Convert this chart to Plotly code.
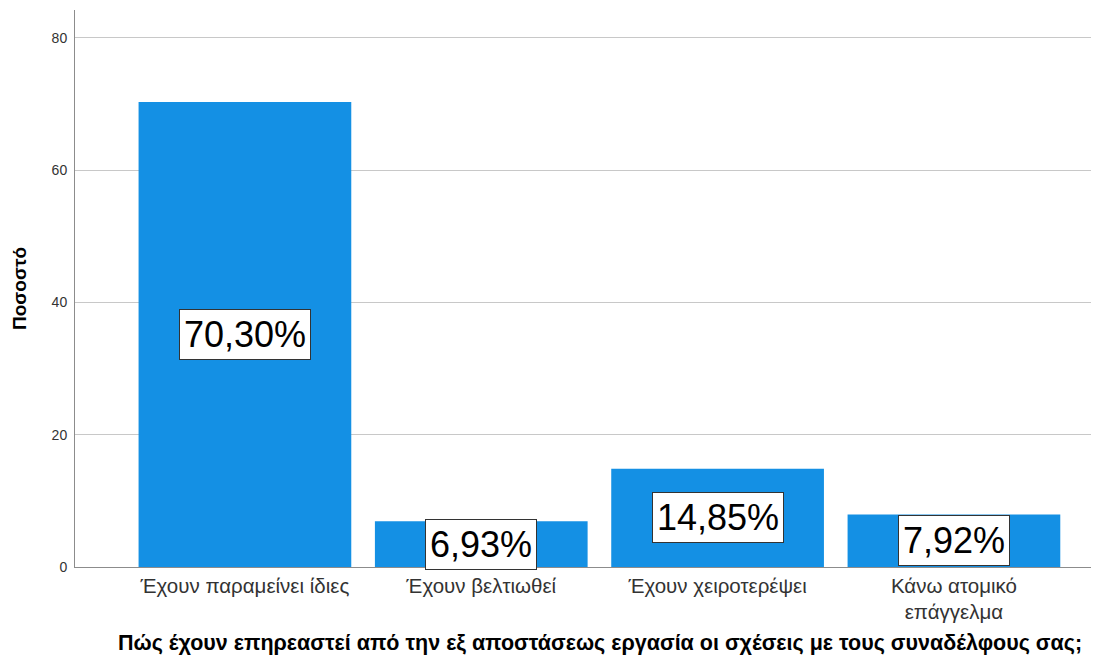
import plotly.graph_objects as go

categories = ["Έχουν παραμείνει ίδιες", "Έχουν βελτιωθεί", "Έχουν χειροτερέψει", "Κάνω ατομικό<br>επάγγελμα"]
values = [70.30, 6.93, 14.85, 7.92]
labels = ["70,30%", "6,93%", "14,85%", "7,92%"]
y_ticks = [0, 20, 40, 60, 80]
x_title = "Πώς έχουν επηρεαστεί από την εξ αποστάσεως εργασία οι σχέσεις με τους συναδέλφους σας;"

fig = go.Figure()
fig.add_trace(go.Bar(
    x=list(range(len(categories))), y=values,
    marker=dict(color="#1490e4", line=dict(width=0)),
    width=0.9, hoverinfo="skip",
))

for i, (v, t) in enumerate(zip(values, labels)):
    fig.add_annotation(
        x=i, y=v / 2, text=t, showarrow=False,
        font=dict(family="Liberation Sans, Arial", size=36, color="#000000"),
        bgcolor="#ffffff", bordercolor="#333333", borderwidth=1, borderpad=4,
    )

fig.add_annotation(
    x=0.5167, y=-0.136, xref="paper", yref="paper",
    xanchor="center", yanchor="middle", showarrow=False,
    text="<b>" + x_title + "</b>",
    font=dict(family="Liberation Sans, Arial", size=21.5, color="#000000"),
)

fig.update_layout(
    width=1083, height=650,
    margin=dict(l=67, r=0, t=2, b=91),
    paper_bgcolor="#ffffff", plot_bgcolor="#ffffff",
    showlegend=False,
    font=dict(family="Liberation Sans, Arial", color="#333333"),
    xaxis=dict(
        range=[-0.719, 3.58], automargin=False,
        tickmode="array", tickvals=list(range(len(categories))), ticktext=categories,
        tickfont=dict(size=20.5, color="#333333"),
        showgrid=False, zeroline=False,
        showline=True, linecolor="#8c8c8c", linewidth=1,
        ticks="", ticklen=0,
    ),
    yaxis=dict(
        range=[0, 84.2], automargin=False,
        tickmode="array", tickvals=y_ticks, ticktext=[str(t) for t in y_ticks],
        tickfont=dict(size=14, color="#333333"),
        ticklabelstandoff=4,
        showgrid=True, gridcolor="#c8c8c8", gridwidth=1,
        zeroline=False,
        showline=True, linecolor="#8c8c8c", linewidth=1,
        ticks="", ticklen=0,
        title=dict(text="<b>Ποσοστό</b>", font=dict(size=19, color="#000000"), standoff=19),
    ),
)

fig.write_html("out.html")
